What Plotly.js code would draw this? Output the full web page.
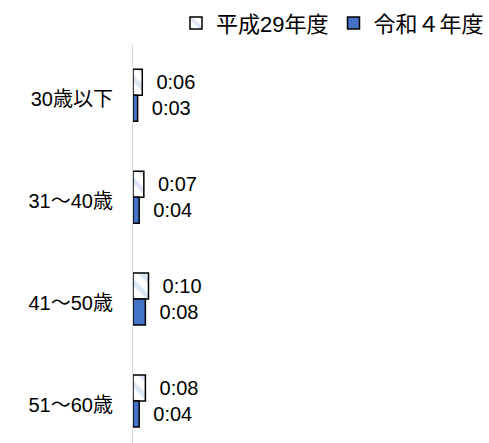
<!DOCTYPE html>
<html>
<head>
<meta charset="utf-8">
<script src="https://cdn.plot.ly/plotly-3.0.1.min.js"></script>
<style>
  html, body { margin: 0; padding: 0; background: #fff; overflow: hidden; }
  #chart { width: 489px; height: 460px; }
</style>
</head>
<body>
<div id="chart"></div>
<script>
// age groups, top to bottom
const ageGroups = ['30歳以下', '31～40歳', '41～50歳', '51～60歳'];
// minutes per day
const h29Minutes = [6, 7, 10, 8];
const r4Minutes = [3, 4, 8, 4];
const seriesNames = ['平成29年度', '令和４年度'];

const FONT = 'Liberation Sans, Arial, "Noto Sans CJK JP", sans-serif';
const pad = '\u00a0\u00a0';

function hm(m) {
    const h = Math.floor(m / 60);
    const mm = m % 60;
    return h + ':' + (mm < 10 ? '0' : '') + mm;
}

const traces = [
    {
        type: 'bar',
        orientation: 'h',
        name: seriesNames[0],
        y: ageGroups,
        x: h29Minutes,
        text: h29Minutes.map(m => pad + hm(m)),
        textposition: 'outside',
        cliponaxis: false,
        hoverinfo: 'skip',
        marker: {
            color: '#ffffff',
            line: { color: '#000000', width: 1.5 },
            pattern: { shape: '\\', bgcolor: '#ffffff', fgcolor: '#b8cbea', size: 12, solidity: 0.4, fillmode: 'overlay' }
        }
    },
    {
        type: 'bar',
        orientation: 'h',
        name: seriesNames[1],
        y: ageGroups,
        x: r4Minutes,
        text: r4Minutes.map(m => pad + hm(m)),
        textposition: 'outside',
        cliponaxis: false,
        hoverinfo: 'skip',
        marker: {
            color: '#4472c4',
            line: { color: '#000000', width: 1.5 }
        }
    }
];

const layout = {
    width: 489,
    height: 460,
    paper_bgcolor: '#ffffff',
    plot_bgcolor: '#ffffff',
    font: { family: FONT, size: 20, color: '#000000' },
    margin: { t: 42, b: 8, l: 133, r: 9 },
    barmode: 'group',
    bargap: 0.49,
    bargroupgap: 0,
    showlegend: true,
    legend: {
        orientation: 'h',
        xref: 'container', yref: 'container',
        x: 1, xanchor: 'right',
        y: 0.995, yanchor: 'top',
        font: { family: FONT, size: 22, color: '#000000' },
        itemwidth: 30,
        traceorder: 'normal'
    },
    xaxis: {
        range: [0, 224],
        showticklabels: false,
        showgrid: false,
        zeroline: false,
        showline: false,
        ticks: ''
    },
    yaxis: {
        autorange: 'reversed',
        showline: true,
        linecolor: '#d9d9d9',
        linewidth: 1,
        showgrid: false,
        ticks: '',
        ticklabelstandoff: 15,
        ticklabelshift: -4,
        tickfont: { family: FONT, size: 20, color: '#000000' }
    }
};

Plotly.newPlot('chart', traces, layout, { displayModeBar: false, staticPlot: true });
</script>
</body>
</html>
